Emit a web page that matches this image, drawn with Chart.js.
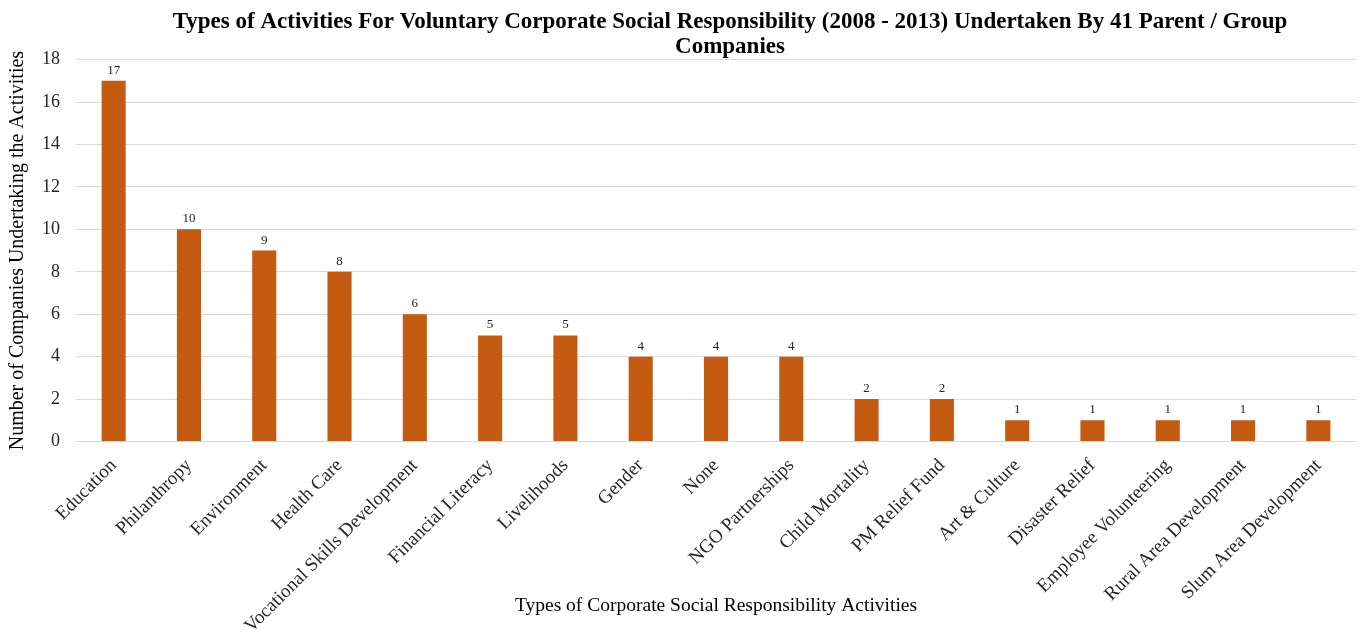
<!DOCTYPE html>
<html>
<head>
<meta charset="utf-8">
<title>CSR Activities</title>
<script src="https://cdn.jsdelivr.net/npm/chart.js@4"></script>
<style>
  html, body { margin: 0; padding: 0; background: #fff; }
  #wrap { width: 1359px; height: 636px; position: relative; }
</style>
</head>
<body>
<div id="wrap"><canvas id="grafico"></canvas></div>
<script>
/* Dados */

const categorias = [
  "Education", "Philanthropy", "Environment", "Health Care",
  "Vocational Skills Development", "Financial Literacy", "Livelihoods",
  "Gender", "None", "NGO Partnerships", "Child Mortality", "PM Relief Fund",
  "Art & Culture", "Disaster Relief", "Employee Volunteering",
  "Rural Area Development", "Slum Area Development"
];
const empresas = [17, 10, 9, 8, 6, 5, 5, 4, 4, 4, 2, 2, 1, 1, 1, 1, 1];
const yMin = 0;
const yMax = 18;
const yPasso = 2;

const fonte = "'Liberation Serif', 'Times New Roman', serif";

/* Valores em cima das barras */

const rotulos = {
  id: "rotulos",
  afterDatasetsDraw(chart) {
    const ctx = chart.ctx;
    const meta = chart.getDatasetMeta(0);
    ctx.save();
    ctx.font = "13px " + fonte;
    ctx.fillStyle = "#262626";
    ctx.textAlign = "center";
    ctx.textBaseline = "bottom";
    meta.data.forEach(function (barra, i) {
      ctx.fillText(String(empresas[i]), barra.x, barra.y - 4);
    });
    ctx.restore();
  }
};

/* Título um pouco mais à direita */

const moverTitulo = {
  id: "moverTitulo",
  afterLayout(chart) {
    const t = chart.titleBlock;
    if (t) {
      t.left += 14;
      t.right += 14;
    }
  }
};

/* Gráfico */

const config = {
  type: "bar",
  data: {
    labels: categorias,
    datasets: [
      {
        data: empresas,
        backgroundColor: "#C55A11",
        barPercentage: 0.32,
        categoryPercentage: 1.0,
      },
    ],
  },
  options: {
    responsive: true,
    maintainAspectRatio: false,
    animation: false,
    layout: { padding: { right: 3 } },
    plugins: {
      legend: { display: false },
      tooltip: { enabled: false },
      title: {
        display: true,
        fullSize: false,
        text: [
          "Types of Activities For Voluntary Corporate Social Responsibility (2008 - 2013) Undertaken By 41 Parent / Group",
          "Companies"
        ],
        color: "#000",
        font: { family: fonte, size: 23, weight: "bold", lineHeight: 1.1 },
        padding: { top: 9, bottom: 0 },
      },
    },
    scales: {
      x: {
        grid: { display: false },
        border: { display: false },
        ticks: {
          color: "#262626",
          font: { family: fonte, size: 19 },
          minRotation: 45,
          maxRotation: 45,
          autoSkip: false,
          padding: 5,
        },
        title: {
          display: true,
          text: "Types of Corporate Social Responsibility Activities",
          color: "#000",
          font: { family: fonte, size: 19.5 },
          padding: { top: -48, bottom: 18 },
        },
      },
      y: {
        min: yMin,
        max: yMax,
        grid: { color: "#d9d9d9", drawTicks: false },
        border: { display: false },
        ticks: {
          stepSize: yPasso,
          color: "#262626",
          font: { family: fonte, size: 18 },
          padding: 16,
        },
        title: {
          display: true,
          text: "Number of Companies Undertaking the Activities",
          color: "#000",
          font: { family: fonte, size: 20 },
          padding: { top: 6, bottom: -4 },
        },
      },
    },
  },
  plugins: [rotulos, moverTitulo],
};

const meuGrafico = new Chart(document.getElementById("grafico"), config);
</script>
</body>
</html>
